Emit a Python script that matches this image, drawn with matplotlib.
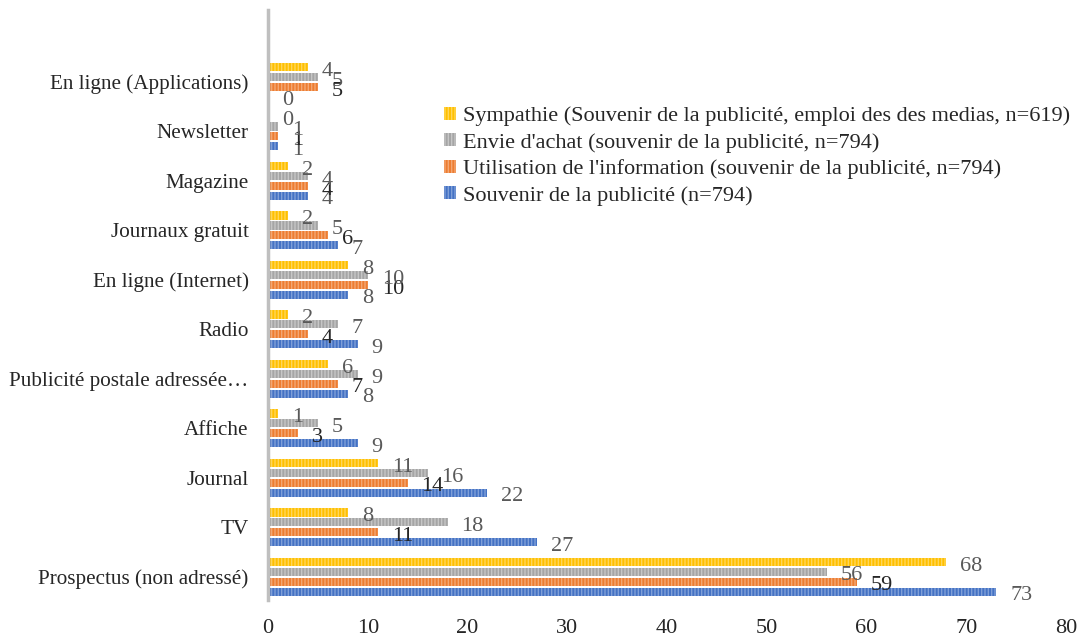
import matplotlib.pyplot as plt
import numpy as np

plt.rcParams['font.family'] = ['Liberation Serif', 'DejaVu Serif']
plt.rcParams['hatch.linewidth'] = 1.0

# --- Data (bottom to top) ---
categories = [
    "Prospectus (non adressé)", "TV", "Journal", "Affiche",
    "Publicité postale adressée…", "Radio", "En ligne (Internet)",
    "Journaux gratuit", "Magazine", "Newsletter", "En ligne (Applications)",
]
souvenir = [73, 27, 22, 9, 8, 9, 8, 7, 4, 1, 0]
utilisation = [59, 11, 14, 3, 7, 4, 10, 6, 4, 1, 5]
envie = [56, 18, 16, 5, 9, 7, 10, 5, 4, 1, 5]
sympathie = [68, 8, 11, 1, 6, 2, 8, 2, 2, 0, 4]

series = [
    ("Souvenir de la publicité (n=794)", souvenir, "#4472C4", "#7f9fd8"),
    ("Utilisation de l'information (souvenir de la publicité, n=794)", utilisation, "#ED7D31", "#f3a774"),
    ("Envie d'achat (souvenir de la publicité, n=794)", envie, "#A5A5A5", "#c6c6c6"),
    ("Sympathie (Souvenir de la publicité, emploi des des medias, n=619)", sympathie, "#FFC000", "#ffd659"),
]
label_colors = ["#595959", "#262626", "#595959", "#595959"]

fig = plt.figure(figsize=(10.87, 6.4), dpi=100)
ax = fig.add_axes([0.2466, 0.0625, 0.7341, 0.9215])

y = np.arange(len(categories))
pitch, h = 0.2, 0.165
handles = []
for i, (name, vals, col, hcol) in enumerate(series):
    pos = y + (i - 1.5) * pitch
    bars = ax.barh(pos, vals, height=h, color=col, edgecolor=hcol,
                   linewidth=0, hatch="|||||", label=name)
    handles.append(bars)
    for p, v in zip(pos, vals):
        ax.annotate(str(v), (v, p), xytext=(10, -3), textcoords="offset points",
                    ha="left", va="center", fontsize=16, color=label_colors[i])

ax.set_xlim(0, 80)
ax.set_ylim(-0.47, 11.45)
ax.set_yticks(y)
ax.set_yticklabels(categories, fontsize=15.2, color="#262626")
ax.set_xticks(range(0, 81, 10))
ax.tick_params(axis="x", length=0, pad=14, labelsize=16, labelcolor="#262626")
ax.tick_params(axis="y", length=0, pad=14)
for s in ["top", "right", "bottom"]:
    ax.spines[s].set_visible(False)
ax.spines["left"].set_color("#bfbfbf")
ax.spines["left"].set_linewidth(2.5)

leg = fig.legend(handles[::-1], [s[0] for s in series][::-1], loc="upper left",
                 bbox_to_anchor=(0.39, 0.865), frameon=False, fontsize=16,
                 handlelength=0.55, handleheight=0.55, handletextpad=0.3,
                 labelspacing=0.3, labelcolor="#262626")

fig.savefig("out.png", dpi=100)
